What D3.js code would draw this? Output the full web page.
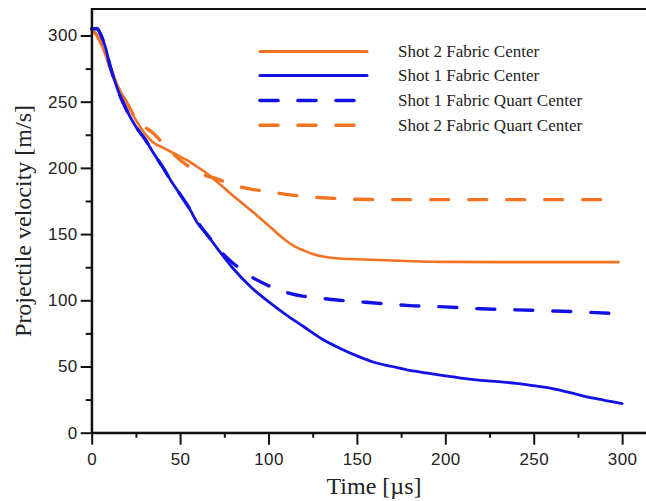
<!DOCTYPE html>
<html>
<head>
<meta charset="utf-8">
<script src="https://cdn.jsdelivr.net/npm/d3@7"></script>
<style>
  html, body { margin: 0; padding: 0; background: #fff; }
  svg { display: block; }
</style>
</head>
<body>
<svg id="chart" width="646" height="501"></svg>
<script>
// ---- data ----
const xTicks = [0, 50, 100, 150, 200, 250, 300];
const yTicks = [0, 50, 100, 150, 200, 250, 300];
const xMinor = [25, 75, 125, 175, 225, 275];
const yMinor = [25, 75, 125, 175, 225, 275];

const seriesNames = ["Shot 2 Fabric Center", "Shot 1 Fabric Center", "Shot 1 Fabric Quart Center", "Shot 2 Fabric Quart Center"];

const shot2CenterT = [0, 3, 5, 10, 15, 20, 25, 30, 35, 40, 45, 50, 55, 60, 65, 70, 80, 90, 100, 105, 110, 115, 120, 125, 130, 140, 150, 170, 200, 250, 298];
const shot2CenterV = [304, 300, 295, 277, 261, 249, 236, 226, 219, 215.5, 212, 208.5, 205, 200.5, 196, 190.5, 179, 168, 156.5, 150.5, 145, 140.5, 137.5, 135, 133.3, 131.6, 131, 130, 129, 128.8, 128.8];

const shot1CenterT = [0, 3, 5, 8, 10, 15, 20, 25, 30, 35, 40, 45, 50, 55, 60, 65, 70, 80, 90, 100, 110, 120, 130, 140, 150, 160, 170, 180, 190, 200, 210, 220, 230, 240, 250, 260, 270, 280, 290, 300];
const shot1CenterV = [305, 305.5, 301, 290, 279, 258, 243, 231, 222, 211, 201, 190, 180, 170, 158, 150, 141, 124, 110, 99, 89, 80, 71, 64, 58, 53, 50, 47, 45, 43, 41, 39.5, 38.5, 37.3, 35.5, 33.5, 30.5, 27, 24.5, 22];

const shot1QuartT = [0, 3, 5, 8, 10, 15, 20, 25, 30, 35, 40, 45, 50, 55, 60, 65, 70, 75, 80, 90, 100, 110, 120, 130, 140, 150, 160, 180, 200, 220, 240, 260, 280, 295];
const shot1QuartV = [305, 305, 301, 290, 279, 258, 243, 231, 222, 211, 201, 190, 180, 170, 159, 150, 142, 134, 128, 118, 111, 106, 103, 101.5, 100, 99, 98, 96, 95, 93.6, 92.8, 92, 91, 90];

const shot2QuartT = [0, 3, 5, 10, 15, 20, 25, 30, 35, 40, 45, 50, 55, 60, 65, 70, 80, 90, 100, 110, 120, 130, 140, 150, 170, 200, 250, 290];
const shot2QuartV = [304, 300, 295, 277, 261, 249, 237, 231, 226, 219, 212, 206, 201, 197, 194, 192, 187, 184, 182, 180, 178.5, 177.5, 176.8, 176.3, 176, 176, 176, 176];

// ---- styles ----
const ORANGE = "#f27322";
const BLUE = "#1212e4";

const svg = d3.select("#chart");
const x = d3.scaleLinear().domain([0, 320]).range([91.7, 657.5]);
const y = d3.scaleLinear().domain([0, 320]).range([432.7, 9]);

// frame (top edge; right edge falls outside the picture)
svg.append("rect")
  .attr("x", x(0)).attr("y", y(320))
  .attr("width", x(320) - x(0)).attr("height", y(0) - y(320))
  .attr("fill", "none").attr("stroke", "#111").attr("stroke-width", 2);

// series
const line = d3.line().x(d => x(d[0])).y(d => y(d[1])).curve(d3.curveMonotoneX);
const zip = (a, b) => a.map((t, i) => [t, b[i]]);
const series = [
  { name: seriesNames[0], data: zip(shot2CenterT, shot2CenterV), color: ORANGE, dash: null, w: 2.6 },
  { name: seriesNames[3], data: zip(shot2QuartT, shot2QuartV), color: ORANGE, dash: "18,20", w: 3.4 },
  { name: seriesNames[2], data: zip(shot1QuartT, shot1QuartV), color: BLUE, dash: "18,20", w: 3.4 },
  { name: seriesNames[1], data: zip(shot1CenterT, shot1CenterV), color: BLUE, dash: null, w: 2.8 }
];
svg.append("g").selectAll("path").data(series).join("path")
  .attr("d", d => line(d.data))
  .attr("fill", "none")
  .attr("stroke", d => d.color)
  .attr("stroke-width", d => d.w)
  .attr("stroke-dasharray", d => d.dash)
  .attr("stroke-linecap", "round")
  .attr("stroke-linejoin", "round");

// axes
svg.append("g").attr("transform", `translate(0,${y(0)})`)
  .call(d3.axisBottom(x).tickValues(xTicks).tickSizeInner(12).tickSizeOuter(0).tickPadding(8));
svg.append("g").attr("transform", `translate(0,${y(0)})`)
  .call(d3.axisBottom(x).tickValues(xMinor).tickSize(5).tickFormat(""))
  .call(g => g.select(".domain").remove());
svg.append("g").attr("transform", `translate(${x(0)},0)`)
  .call(d3.axisLeft(y).tickValues(yTicks).tickSizeInner(11).tickSizeOuter(0).tickPadding(3));
svg.append("g").attr("transform", `translate(${x(0)},0)`)
  .call(d3.axisLeft(y).tickValues(yMinor).tickSize(6).tickFormat(""))
  .call(g => g.select(".domain").remove());

svg.selectAll(".domain, .tick line").attr("stroke", "#111").attr("stroke-width", 2);
svg.selectAll(".tick text")
  .attr("font-family", "Liberation Sans, Arial, sans-serif")
  .attr("font-size", 17).attr("letter-spacing", 0.4).attr("fill", "#222");

// axis titles
svg.append("text")
  .attr("x", 374).attr("y", 494)
  .attr("text-anchor", "middle")
  .attr("font-family", "Liberation Serif, Times New Roman, serif")
  .attr("font-size", 24).attr("fill", "#222")
  .text("Time [µs]");
svg.append("text")
  .attr("transform", "translate(31,221) rotate(-90)")
  .attr("text-anchor", "middle")
  .attr("font-family", "Liberation Serif, Times New Roman, serif")
  .attr("font-size", 24).attr("fill", "#222")
  .text("Projectile velocity [m/s]");

// legend
const legendItems = [series[0], series[3], series[2], series[1]];
const lg = svg.append("g");
const rowY = [51.5, 75.5, 100.5, 125.2];
legendItems.forEach((s, i) => {
  lg.append("line")
    .attr("x1", 260).attr("x2", 367).attr("y1", rowY[i]).attr("y2", rowY[i])
    .attr("stroke", s.color).attr("stroke-width", s.dash ? 3.6 : 3)
    .attr("stroke-dasharray", s.dash)
    .attr("stroke-linecap", "round");
  lg.append("text")
    .attr("x", 398).attr("y", rowY[i] + 5.5)
    .attr("font-family", "Liberation Serif, Times New Roman, serif")
    .attr("font-size", 17).attr("fill", "#222")
    .text(s.name);
});
</script>
</body>
</html>
